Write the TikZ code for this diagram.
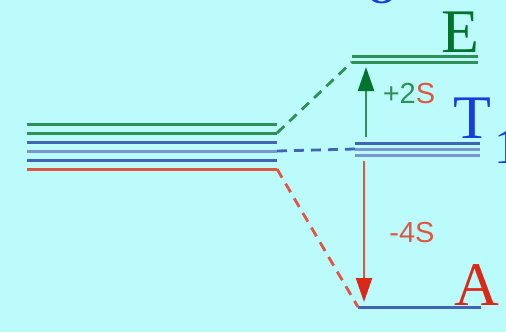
\documentclass[tikz,border=0pt]{standalone}
\usepackage{fontspec}
\setmainfont{Liberation Serif}
\setsansfont{Liberation Sans}
\usetikzlibrary{arrows.meta}

\definecolor{bgcyan}{RGB}{188,251,251}
\definecolor{lvgreen}{RGB}{45,145,85}
\definecolor{txgreen}{RGB}{0,115,45}
\definecolor{lvblue}{RGB}{65,100,180}
\definecolor{lvlblue}{RGB}{120,150,208}
\definecolor{txblue}{RGB}{25,60,225}
\definecolor{lvred}{RGB}{225,85,65}
\definecolor{txred}{RGB}{220,40,25}

\tikzset{
    lvl/.style={line width=3pt},
    corr/.style={line width=2.8pt, dash pattern=on 10pt off 7pt},
    shiftarrow/.style={line width=2.4pt},
    lbl/.style={inner sep=0pt, font=\sffamily\fontsize{29}{29}\selectfont},
    term/.style={inner sep=0pt, anchor=base, font=\fontsize{62}{62}\selectfont}
}

\begin{document}
\begin{tikzpicture}[x=1pt, y=-1pt]
    \useasboundingbox [fill=bgcyan] (0,0) rectangle (506,332);

    % free-ion levels
    \draw [lvl, lvgreen] (27,124) -- (277,124);
    \draw [lvl, lvgreen] (27,133) coordinate (lg) -- (277,133) coordinate (rg);
    \draw [lvl, lvblue] (27,142) -- (277,142);
    \draw [lvl, lvlblue] (27,151) -- (277,151) coordinate (rb);
    \draw [lvl, lvblue] (27,160) -- (277,160);
    \draw [lvl, lvred] (27,169) -- (277,169) coordinate (rr);

    % split levels
    \draw [lvl, lvgreen] (352,56) -- (478,56);
    \draw [lvl, lvgreen] (352,62) coordinate (eg) -- (478,62);
    \draw [lvl, lvblue] (355,143) -- (480,143);
    \draw [lvl, lvlblue] (355,149) coordinate (tb) -- (480,149);
    \draw [lvl, lvlblue] (355,155) -- (480,155);
    \draw [lvl, lvblue] (358,307) coordinate (ab) -- (481,307);

    % correlation lines
    \draw [corr, lvgreen] (rg) -- (eg);
    \draw [corr, lvblue] (rb) -- (tb);
    \draw [corr, lvred] (rr) -- (ab);

    % shifts
    \coordinate (gfrom) at (366,137);
    \coordinate (gto) at (366,67);
    \coordinate (rfrom) at (364,161);
    \coordinate (rto) at (364,302);
    \draw [shiftarrow, lvgreen, -{Triangle[width=16pt,length=24pt,fill=txgreen,color=txgreen]}] (gfrom) -- (gto);
    \draw [shiftarrow, lvred, -{Triangle[width=16pt,length=24pt,fill=txred,color=txred]}] (rfrom) -- (rto);

    \node [lbl, text=lvgreen] (plus) at (409,94) {+2\textcolor{lvred}{S}};
    \node [lbl, text=lvred] (minus) at (412,233) {-4S};

    % terms
    \node [term, text=txgreen] (E) at (460,52) {E};
    \node [term, text=txblue] (T) at (472,138) {T};
    \node [term, text=txblue, font=\fontsize{50}{50}\selectfont] (T1) at (507,163) {1};
    \node [term, text=txred] (A) at (477,305) {A};
    \node [term, text=txblue, font=\bfseries\fontsize{40}{40}\selectfont] (top) at (382,3) {O};
\end{tikzpicture}
\end{document}
